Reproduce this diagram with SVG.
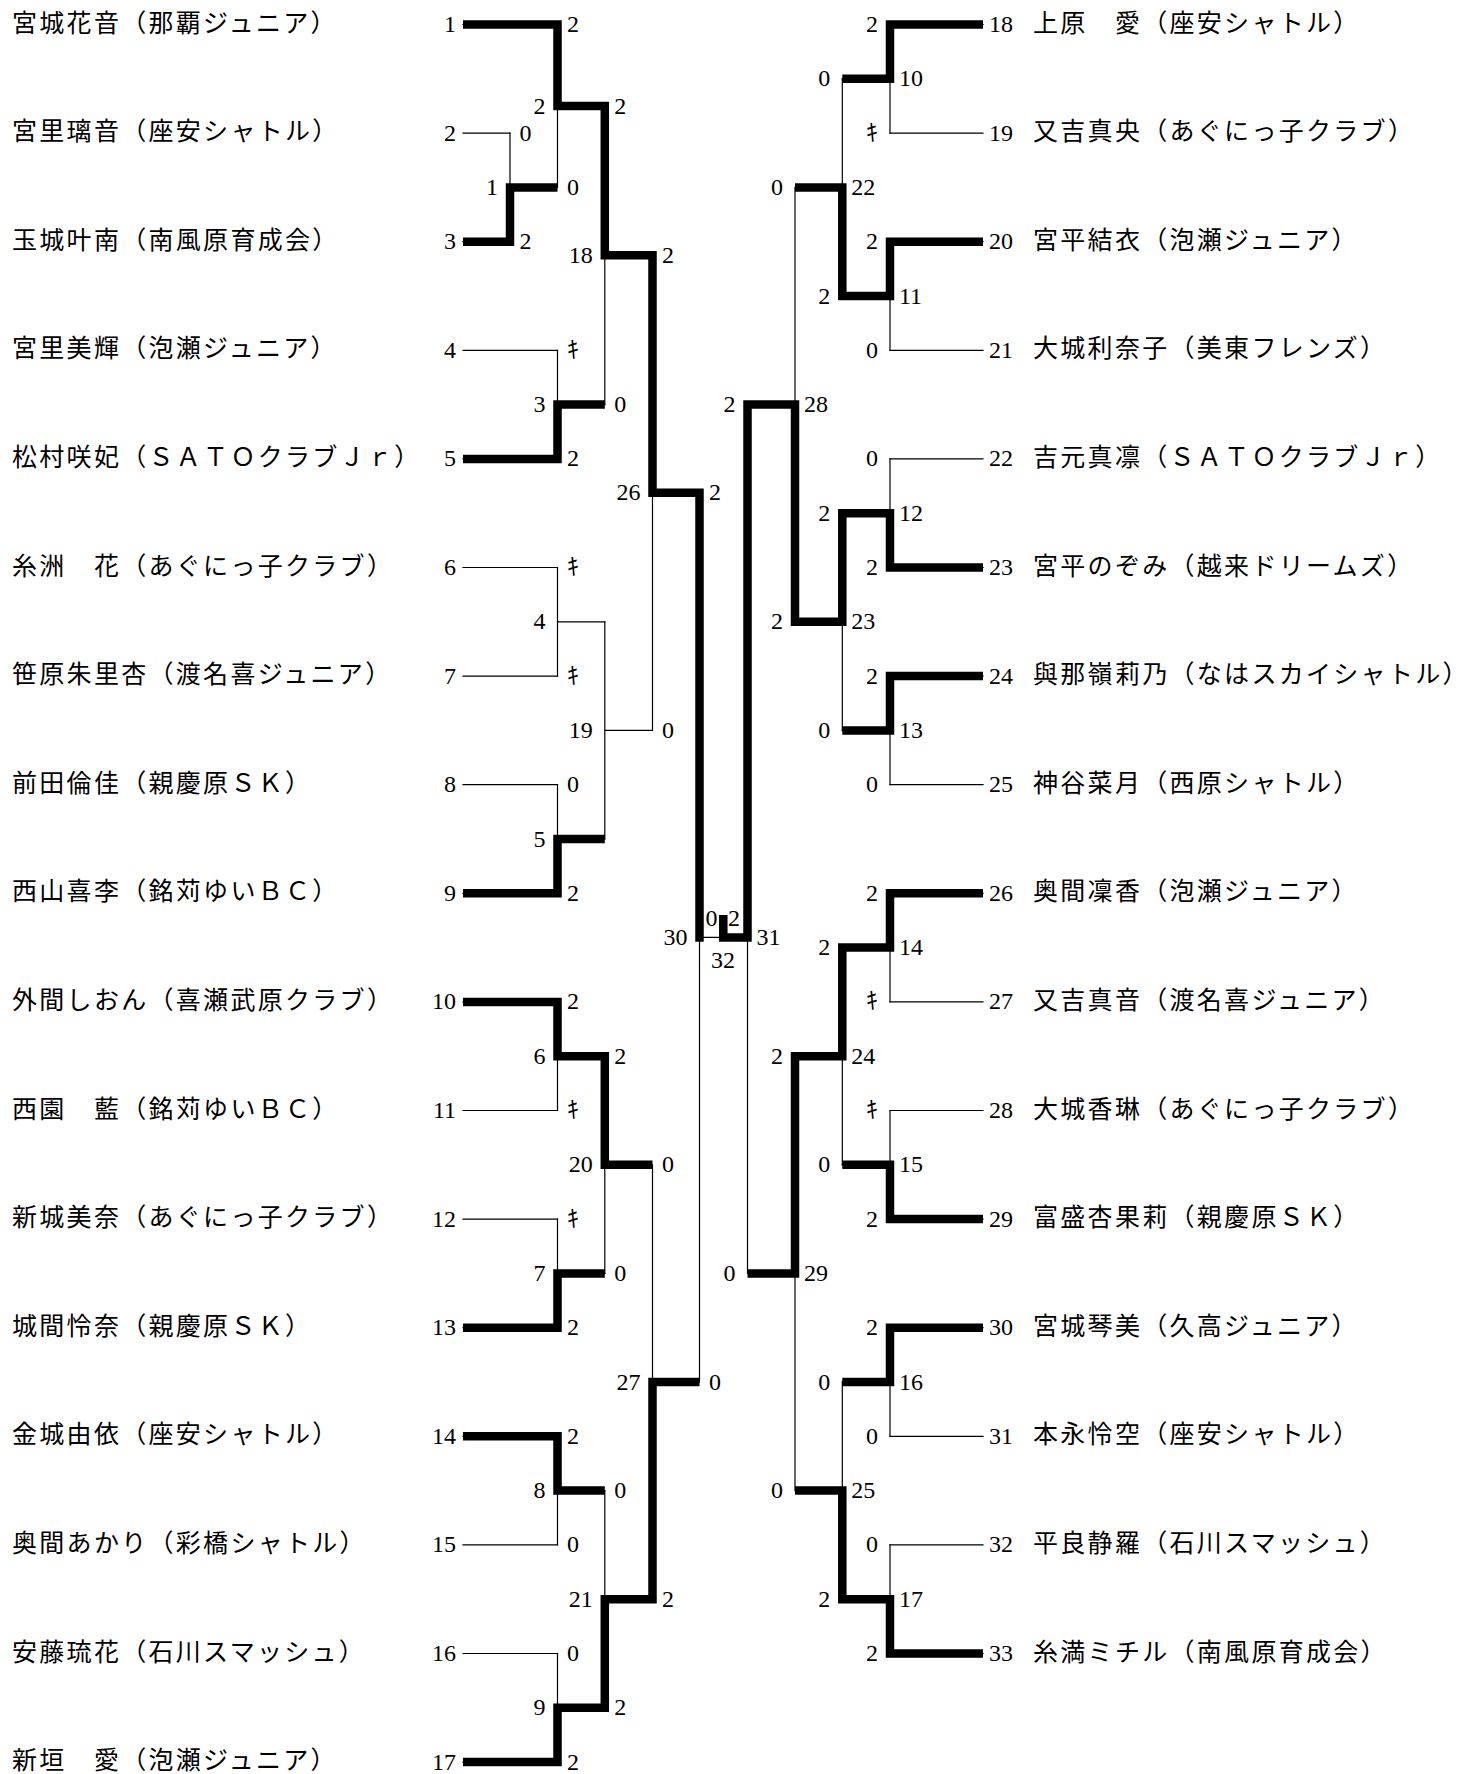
<svg xmlns="http://www.w3.org/2000/svg" width="1474" height="1774" viewBox="0 0 1474 1774">
<style>
.nm{font-family:"Noto Sans CJK JP",sans-serif;font-size:25px;letter-spacing:2.3px;fill:#000}
.d{font-family:"Liberation Serif","Noto Sans CJK JP",serif;font-size:24px;fill:#000}
.e{text-anchor:end}
.m{text-anchor:middle}
.thin{fill:none;stroke:#000;stroke-width:1.2;stroke-linecap:square}
.thick{fill:none;stroke:#000;stroke-width:8.5;stroke-linecap:butt;stroke-linejoin:miter}
</style>
<rect width="1474" height="1774" fill="#fff"/>
<g id="connectors">
<path class="thin" d="M463,24.5H557.5M463,133.1H510M463,241.7H510M463,350.3H557.5M463,458.9H557.5M463,567.5H557.5M463,676.1H557.5M463,784.7H557.5M463,893.3H557.5M463,1001.9H557.5M463,1110.5H557.5M463,1219.1H557.5M463,1327.7H557.5M463,1436.3H557.5M463,1544.9H557.5M463,1653.5H557.5M463,1762.1H557.5"/>
<path class="thin" d="M510,133.1V241.7M510,187.4H557.5M557.5,24.5V187.4M557.5,106H604.8M557.5,350.3V458.9M557.5,404.6H604.8M557.5,567.5V676.1M557.5,621.8H604.8M557.5,784.7V893.3M557.5,839H604.8M557.5,1001.9V1110.5M557.5,1056.2H604.8M557.5,1219.1V1327.7M557.5,1273.4H604.8M557.5,1436.3V1544.9M557.5,1490.6H604.8M557.5,1653.5V1762.1M557.5,1707.8H604.8"/>
<path class="thin" d="M604.8,106V404.6M604.8,255.3H652.5M604.8,621.8V839M604.8,730.4H652.5M604.8,1056.2V1273.4M604.8,1164.8H652.5M604.8,1490.6V1707.8M604.8,1599.2H652.5M652.5,255.3V730.4M652.5,492.85H699.5M652.5,1164.8V1599.2M652.5,1382H699.5M699.5,492.85V1382M699.5,937.4H723.3"/>
<path class="thin" d="M983,24.5H890M983,133.1H890M983,241.7H890M983,350.3H890M983,458.9H890M983,567.5H890M983,676.1H890M983,784.7H890M983,893.3H890M983,1001.9H890M983,1110.5H890M983,1219.1H890M983,1327.7H890M983,1436.3H890M983,1544.9H890M983,1653.5H890"/>
<path class="thin" d="M890,24.5V133.1M890,78.8H842.3M890,241.7V350.3M890,296H842.3M890,458.9V567.5M890,513.2H842.3M890,676.1V784.7M890,730.4H842.3M890,893.3V1001.9M890,947.6H842.3M890,1110.5V1219.1M890,1164.8H842.3M890,1327.7V1436.3M890,1382H842.3M890,1544.9V1653.5M890,1599.2H842.3"/>
<path class="thin" d="M842.3,78.8V296M842.3,187.4H795M842.3,513.2V730.4M842.3,621.8H795M842.3,947.6V1164.8M842.3,1056.2H795M842.3,1382V1599.2M842.3,1490.6H795M795,187.4V621.8M795,404.6H747.5M795,1056.2V1490.6M795,1273.4H747.5M747.5,404.6V1273.4M747.5,937.4H723.3"/>
<path class="thick" d="M463,24.5H557.5V106H604.8V255.3H652.5V492.85H699.5V941.65"/>
<path class="thick" d="M463,241.7H510V187.4H557.5"/>
<path class="thick" d="M463,458.9H557.5V404.6H604.8"/>
<path class="thick" d="M463,893.3H557.5V839H604.8"/>
<path class="thick" d="M463,1001.9H557.5V1056.2H604.8V1164.8H652.5"/>
<path class="thick" d="M463,1327.7H557.5V1273.4H604.8"/>
<path class="thick" d="M463,1436.3H557.5V1490.6H604.8"/>
<path class="thick" d="M463,1762.1H557.5V1707.8H604.8V1599.2H652.5V1382H699.5"/>
<path class="thick" d="M983,24.5H890V78.8H842.3"/>
<path class="thick" d="M983,241.7H890V296H842.3V187.4H795"/>
<path class="thick" d="M983,567.5H890V513.2H842.3V621.8H795V404.6H747.5V937.4H723.3V915"/>
<path class="thick" d="M983,676.1H890V730.4H842.3"/>
<path class="thick" d="M983,893.3H890V947.6H842.3V1056.2H795V1273.4H747.5"/>
<path class="thick" d="M983,1219.1H890V1164.8H842.3"/>
<path class="thick" d="M983,1327.7H890V1382H842.3"/>
<path class="thick" d="M983,1653.5H890V1599.2H842.3V1490.6H795"/>
</g>
<g id="p1"><text class="nm" x="12" y="31.5">宮城花音（那覇ジュニア）</text><text class="d e" x="456" y="32">1</text></g>
<g id="p2"><text class="nm" x="12" y="140.1">宮里璃音（座安シャトル）</text><text class="d e" x="456" y="140.6">2</text></g>
<g id="p3"><text class="nm" x="12" y="248.7">玉城叶南（南風原育成会）</text><text class="d e" x="456" y="249.2">3</text></g>
<g id="p4"><text class="nm" x="12" y="357.3">宮里美輝（泡瀬ジュニア）</text><text class="d e" x="456" y="357.8">4</text></g>
<g id="p5"><text class="nm" x="12" y="465.9">松村咲妃（ＳＡＴＯクラブＪｒ）</text><text class="d e" x="456" y="466.4">5</text></g>
<g id="p6"><text class="nm" x="12" y="574.5">糸洲　花（あぐにっ子クラブ）</text><text class="d e" x="456" y="575">6</text></g>
<g id="p7"><text class="nm" x="12" y="683.1">笹原朱里杏（渡名喜ジュニア）</text><text class="d e" x="456" y="683.6">7</text></g>
<g id="p8"><text class="nm" x="12" y="791.7">前田倫佳（親慶原ＳＫ）</text><text class="d e" x="456" y="792.2">8</text></g>
<g id="p9"><text class="nm" x="12" y="900.3">西山喜李（銘苅ゆいＢＣ）</text><text class="d e" x="456" y="900.8">9</text></g>
<g id="p10"><text class="nm" x="12" y="1008.9">外間しおん（喜瀬武原クラブ）</text><text class="d e" x="456" y="1009.4">10</text></g>
<g id="p11"><text class="nm" x="12" y="1117.5">西園　藍（銘苅ゆいＢＣ）</text><text class="d e" x="456" y="1118">11</text></g>
<g id="p12"><text class="nm" x="12" y="1226.1">新城美奈（あぐにっ子クラブ）</text><text class="d e" x="456" y="1226.6">12</text></g>
<g id="p13"><text class="nm" x="12" y="1334.7">城間怜奈（親慶原ＳＫ）</text><text class="d e" x="456" y="1335.2">13</text></g>
<g id="p14"><text class="nm" x="12" y="1443.3">金城由依（座安シャトル）</text><text class="d e" x="456" y="1443.8">14</text></g>
<g id="p15"><text class="nm" x="12" y="1551.9">奥間あかり（彩橋シャトル）</text><text class="d e" x="456" y="1552.4">15</text></g>
<g id="p16"><text class="nm" x="12" y="1660.5">安藤琉花（石川スマッシュ）</text><text class="d e" x="456" y="1661">16</text></g>
<g id="p17"><text class="nm" x="12" y="1769.1">新垣　愛（泡瀬ジュニア）</text><text class="d e" x="456" y="1769.6">17</text></g>
<g id="p18"><text class="d" x="989" y="32">18</text><text class="nm" x="1033" y="31.5">上原　愛（座安シャトル）</text></g>
<g id="p19"><text class="d" x="989" y="140.6">19</text><text class="nm" x="1033" y="140.1">又吉真央（あぐにっ子クラブ）</text></g>
<g id="p20"><text class="d" x="989" y="249.2">20</text><text class="nm" x="1033" y="248.7">宮平結衣（泡瀬ジュニア）</text></g>
<g id="p21"><text class="d" x="989" y="357.8">21</text><text class="nm" x="1033" y="357.3">大城利奈子（美東フレンズ）</text></g>
<g id="p22"><text class="d" x="989" y="466.4">22</text><text class="nm" x="1033" y="465.9">吉元真凛（ＳＡＴＯクラブＪｒ）</text></g>
<g id="p23"><text class="d" x="989" y="575">23</text><text class="nm" x="1033" y="574.5">宮平のぞみ（越来ドリームズ）</text></g>
<g id="p24"><text class="d" x="989" y="683.6">24</text><text class="nm" x="1033" y="683.1">與那嶺莉乃（なはスカイシャトル）</text></g>
<g id="p25"><text class="d" x="989" y="792.2">25</text><text class="nm" x="1033" y="791.7">神谷菜月（西原シャトル）</text></g>
<g id="p26"><text class="d" x="989" y="900.8">26</text><text class="nm" x="1033" y="900.3">奥間凜香（泡瀬ジュニア）</text></g>
<g id="p27"><text class="d" x="989" y="1009.4">27</text><text class="nm" x="1033" y="1008.9">又吉真音（渡名喜ジュニア）</text></g>
<g id="p28"><text class="d" x="989" y="1118">28</text><text class="nm" x="1033" y="1117.5">大城香琳（あぐにっ子クラブ）</text></g>
<g id="p29"><text class="d" x="989" y="1226.6">29</text><text class="nm" x="1033" y="1226.1">富盛杏果莉（親慶原ＳＫ）</text></g>
<g id="p30"><text class="d" x="989" y="1335.2">30</text><text class="nm" x="1033" y="1334.7">宮城琴美（久高ジュニア）</text></g>
<g id="p31"><text class="d" x="989" y="1443.8">31</text><text class="nm" x="1033" y="1443.3">本永怜空（座安シャトル）</text></g>
<g id="p32"><text class="d" x="989" y="1552.4">32</text><text class="nm" x="1033" y="1551.9">平良静羅（石川スマッシュ）</text></g>
<g id="p33"><text class="d" x="989" y="1661">33</text><text class="nm" x="1033" y="1660.5">糸満ミチル（南風原育成会）</text></g>
<g id="m1"><text class="d" x="519.5" y="140.6">0</text><text class="d" x="519.5" y="249.2">2</text><text class="d e" x="498" y="194.9">1</text></g>
<g id="m2"><text class="d" x="567" y="32">2</text><text class="d" x="567" y="194.9">0</text><text class="d e" x="545.5" y="113.5">2</text></g>
<g id="m3"><text class="d" x="567" y="357.8">ｷ</text><text class="d" x="567" y="466.4">2</text><text class="d e" x="545.5" y="412.1">3</text></g>
<g id="m4"><text class="d" x="567" y="575">ｷ</text><text class="d" x="567" y="683.6">ｷ</text><text class="d e" x="545.5" y="629.3">4</text></g>
<g id="m5"><text class="d" x="567" y="792.2">0</text><text class="d" x="567" y="900.8">2</text><text class="d e" x="545.5" y="846.5">5</text></g>
<g id="m6"><text class="d" x="567" y="1009.4">2</text><text class="d" x="567" y="1118">ｷ</text><text class="d e" x="545.5" y="1063.7">6</text></g>
<g id="m7"><text class="d" x="567" y="1226.6">ｷ</text><text class="d" x="567" y="1335.2">2</text><text class="d e" x="545.5" y="1280.9">7</text></g>
<g id="m8"><text class="d" x="567" y="1443.8">2</text><text class="d" x="567" y="1552.4">0</text><text class="d e" x="545.5" y="1498.1">8</text></g>
<g id="m9"><text class="d" x="567" y="1661">0</text><text class="d" x="567" y="1769.6">2</text><text class="d e" x="545.5" y="1715.3">9</text></g>
<g id="m18"><text class="d" x="614.3" y="113.5">2</text><text class="d" x="614.3" y="412.1">0</text><text class="d e" x="592.8" y="262.8">18</text></g>
<g id="m19"><text class="d e" x="592.8" y="737.9">19</text></g>
<g id="m20"><text class="d" x="614.3" y="1063.7">2</text><text class="d" x="614.3" y="1280.9">0</text><text class="d e" x="592.8" y="1172.3">20</text></g>
<g id="m21"><text class="d" x="614.3" y="1498.1">0</text><text class="d" x="614.3" y="1715.3">2</text><text class="d e" x="592.8" y="1606.7">21</text></g>
<g id="m26"><text class="d" x="662" y="262.8">2</text><text class="d" x="662" y="737.9">0</text><text class="d e" x="640.5" y="500.35">26</text></g>
<g id="m27"><text class="d" x="662" y="1172.3">0</text><text class="d" x="662" y="1606.7">2</text><text class="d e" x="640.5" y="1389.5">27</text></g>
<g id="m30"><text class="d" x="709" y="500.35">2</text><text class="d" x="709" y="1389.5">0</text><text class="d e" x="687.5" y="944.9">30</text></g>
<g id="m32"><text class="d m" x="711.5" y="925.5">0</text><text class="d m" x="734" y="925.5">2</text><text class="d m" x="723" y="967.5">32</text></g>
<g id="m10"><text class="d e" x="878" y="32">2</text><text class="d e" x="878" y="140.6">ｷ</text><text class="d" x="899" y="86.3">10</text></g>
<g id="m11"><text class="d e" x="878" y="249.2">2</text><text class="d e" x="878" y="357.8">0</text><text class="d" x="899" y="303.5">11</text></g>
<g id="m12"><text class="d e" x="878" y="466.4">0</text><text class="d e" x="878" y="575">2</text><text class="d" x="899" y="520.7">12</text></g>
<g id="m13"><text class="d e" x="878" y="683.6">2</text><text class="d e" x="878" y="792.2">0</text><text class="d" x="899" y="737.9">13</text></g>
<g id="m14"><text class="d e" x="878" y="900.8">2</text><text class="d e" x="878" y="1009.4">ｷ</text><text class="d" x="899" y="955.1">14</text></g>
<g id="m15"><text class="d e" x="878" y="1118">ｷ</text><text class="d e" x="878" y="1226.6">2</text><text class="d" x="899" y="1172.3">15</text></g>
<g id="m16"><text class="d e" x="878" y="1335.2">2</text><text class="d e" x="878" y="1443.8">0</text><text class="d" x="899" y="1389.5">16</text></g>
<g id="m17"><text class="d e" x="878" y="1552.4">0</text><text class="d e" x="878" y="1661">2</text><text class="d" x="899" y="1606.7">17</text></g>
<g id="m22"><text class="d e" x="830.3" y="86.3">0</text><text class="d e" x="830.3" y="303.5">2</text><text class="d" x="851.3" y="194.9">22</text></g>
<g id="m23"><text class="d e" x="830.3" y="520.7">2</text><text class="d e" x="830.3" y="737.9">0</text><text class="d" x="851.3" y="629.3">23</text></g>
<g id="m24"><text class="d e" x="830.3" y="955.1">2</text><text class="d e" x="830.3" y="1172.3">0</text><text class="d" x="851.3" y="1063.7">24</text></g>
<g id="m25"><text class="d e" x="830.3" y="1389.5">0</text><text class="d e" x="830.3" y="1606.7">2</text><text class="d" x="851.3" y="1498.1">25</text></g>
<g id="m28"><text class="d e" x="783" y="194.9">0</text><text class="d e" x="783" y="629.3">2</text><text class="d" x="804" y="412.1">28</text></g>
<g id="m29"><text class="d e" x="783" y="1063.7">2</text><text class="d e" x="783" y="1498.1">0</text><text class="d" x="804" y="1280.9">29</text></g>
<g id="m31"><text class="d e" x="735.5" y="412.1">2</text><text class="d e" x="735.5" y="1280.9">0</text><text class="d" x="756.5" y="944.9">31</text></g>
</svg>
